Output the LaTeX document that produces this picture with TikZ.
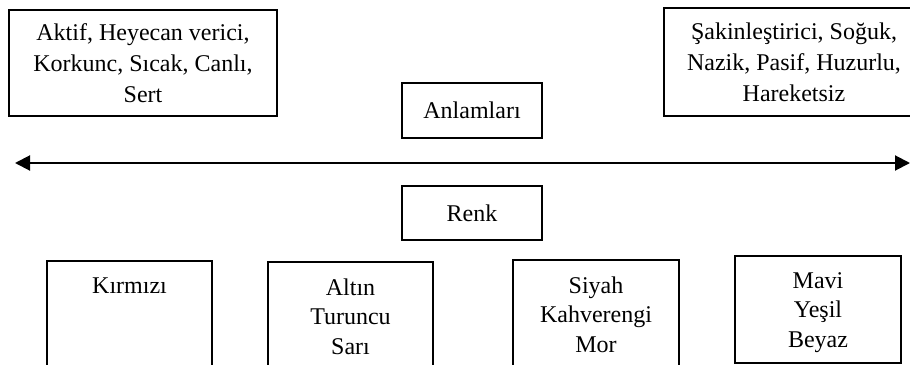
\documentclass[tikz,border=0pt]{standalone}
\usepackage{fontspec}
\setmainfont{Liberation Serif}
\usetikzlibrary{arrows.meta}
\begin{document}
\begin{tikzpicture}[x=1pt,y=-1pt,
    box/.style={draw, line width=2pt, inner sep=0pt},
    txt/.style={align=center, font=\fontsize{24}{29.5}\selectfont}]
    \useasboundingbox (0,0) rectangle (910,364);
    % ust kutular
    \node[box, txt, font=\fontsize{24}{31}\selectfont, minimum width=268, minimum height=106] (sicak) at (143, 63) {Aktif, Heyecan verici,\\Korkunc, Sıcak, Canlı,\\Sert};
    \node[box, txt, font=\fontsize{24}{31}\selectfont, minimum width=260, minimum height=108] (soguk) at (794, 62) {Şakinleştirici, Soğuk,\\Nazik, Pasif, Huzurlu,\\Hareketsiz};
    \node[box, txt, minimum width=140, minimum height=55] (anlam) at (472, 110.5) {Anlamları};
    % ok
    \coordinate (solu) at (15, 163);
    \coordinate (sagu) at (910, 163);
    \draw[line width=2pt, {Triangle[length=15pt,width=15pt]}-{Triangle[length=15pt,width=15pt]}] (solu) -- (sagu);
    \node[box, txt, minimum width=140, minimum height=54] (renk) at (472, 213) {Renk};
    % alt kutular
    \node[box, minimum width=165, minimum height=120] (k1) at (129.5, 321) {};
    \node[box, minimum width=165, minimum height=120] (k2) at (350.5, 322) {};
    \node[box, minimum width=166, minimum height=120] (k3) at (596, 320) {};
    \node[box, minimum width=166, minimum height=107] (k4) at (818, 309.5) {};
    \node[txt, anchor=north] (k1t) at ([yshift=-14]k1.north) {Kırmızı};
    \node[txt, anchor=north] (k2t) at ([yshift=-14]k2.north) {Altın\\Turuncu\\Sarı};
    \node[txt, anchor=north] (k3t) at ([yshift=-14]k3.north) {Siyah\\Kahverengi\\Mor};
    \node[txt, anchor=north] (k4t) at ([yshift=-14]k4.north) {Mavi\\Yeşil\\Beyaz};
\end{tikzpicture}
\end{document}
